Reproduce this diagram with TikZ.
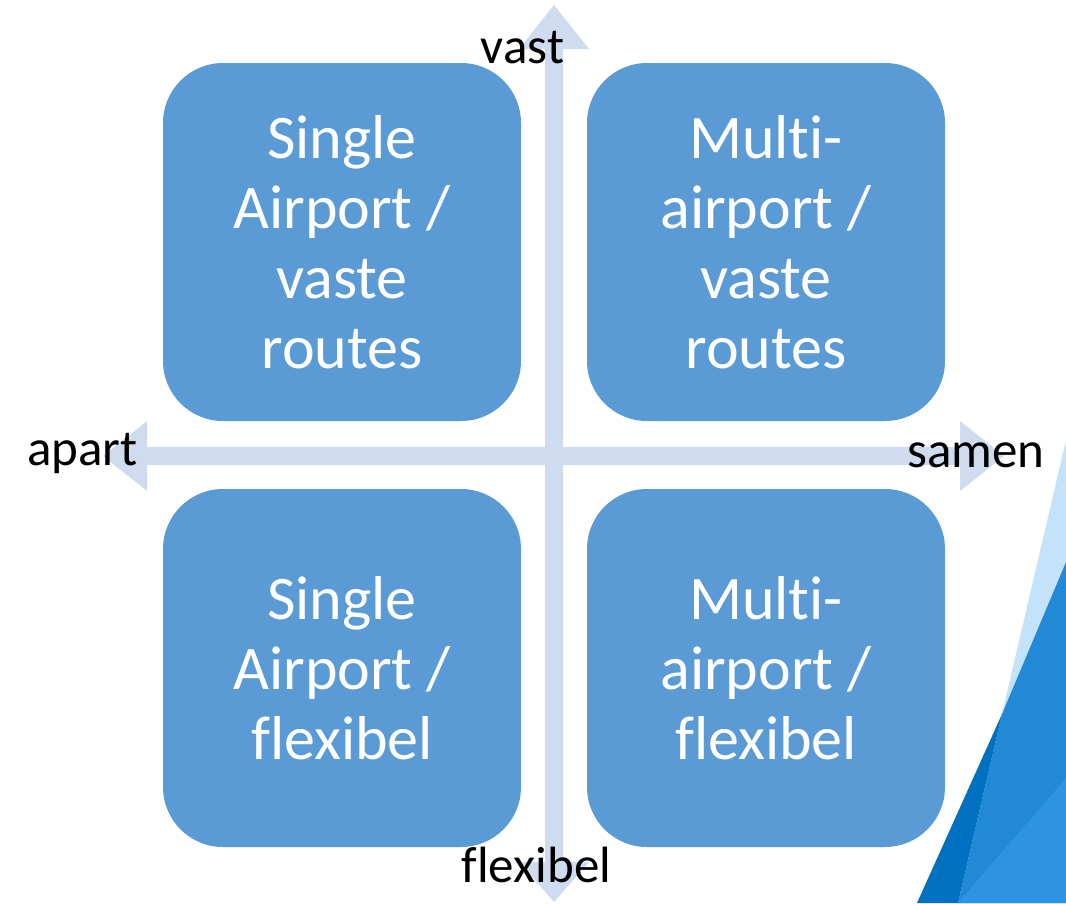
\documentclass[tikz,border=0pt]{standalone}
\usepackage{fontspec}
\setmainfont{Carlito}[Ligatures={NoCommon,NoContextual}]
\usetikzlibrary{calc}
\definecolor{boxblue}{RGB}{91,155,213}
\definecolor{axisblue}{RGB}{207,219,238}
\definecolor{decolight}{RGB}{197,226,251}
\definecolor{decomed}{RGB}{33,137,214}
\definecolor{decodark}{RGB}{0,113,192}
\definecolor{decomid}{RGB}{46,147,224}
\tikzset{
  quadbox/.style={draw=none, fill=boxblue, rounded corners=60pt, minimum width=358pt, minimum height=358pt,
    text=white, align=center, font=\fontsize{62}{70}\selectfont, inner sep=0pt},
  axislabel/.style={text=black, anchor=base, font=\fontsize{51}{60}\selectfont, inner sep=0pt},
  axisfill/.style={fill=axisblue, draw=none}
}
\begin{document}
\begin{tikzpicture}[x=1pt,y=-1pt]
\fill[white] (0,0) rectangle (1066,903);
\useasboundingbox (0,0) rectangle (1066,903);
% decorative corner
\fill[decolight] (1066,440) -- (1002,714) -- (1066,562) -- cycle;
\fill[decomed] (1066,562) -- (1002,714) -- (958,903) -- (1066,903) -- cycle;
\fill[decodark] (1002,714) -- (917,903) -- (958,903) -- cycle;
\fill[decomid] (1066,778) -- (958,903) -- (1066,903) -- cycle;
% axes
\coordinate (tipT) at (554,5);
\coordinate (tipB) at (554,902);
\coordinate (tipL) at (103,456);
\coordinate (tipR) at (1004,456);
\fill[axisfill] (tipT) -- ($(tipT)+(35,44)$) -- ($(tipT)+(9,44)$) -- ($(tipB)+(9,-40)$) -- ($(tipB)+(35,-40)$) -- (tipB)
  -- ($(tipB)+(-35,-40)$) -- ($(tipB)+(-9,-40)$) -- ($(tipT)+(-9,44)$) -- ($(tipT)+(-35,44)$) -- cycle;
\fill[axisfill] (tipL) -- ($(tipL)+(44,-35)$) -- ($(tipL)+(44,-9)$) -- ($(tipR)+(-44,-9)$) -- ($(tipR)+(-44,-35)$) -- (tipR)
  -- ($(tipR)+(-44,35)$) -- ($(tipR)+(-44,9)$) -- ($(tipL)+(44,9)$) -- ($(tipL)+(44,35)$) -- cycle;
% boxes
\node[quadbox] (tl) at (342,242) {Single\\Airport /\\vaste\\routes};
\node[quadbox] (tr) at (766,242) {Multi-\\airport /\\vaste\\routes};
\node[quadbox] (bl) at (342,668) {Single\\Airport /\\flexibel};
\node[quadbox] (br) at (766,668) {Multi-\\airport /\\flexibel};
% labels
\node[axislabel] (vast) at (522.5,63) {vast};
\node[axislabel] (apart) at (82.5,465) {apart};
\node[axislabel] (samen) at (976,467) {samen};
\node[axislabel] (flex) at (536.5,882) {flexibel};
\end{tikzpicture}
\end{document}
